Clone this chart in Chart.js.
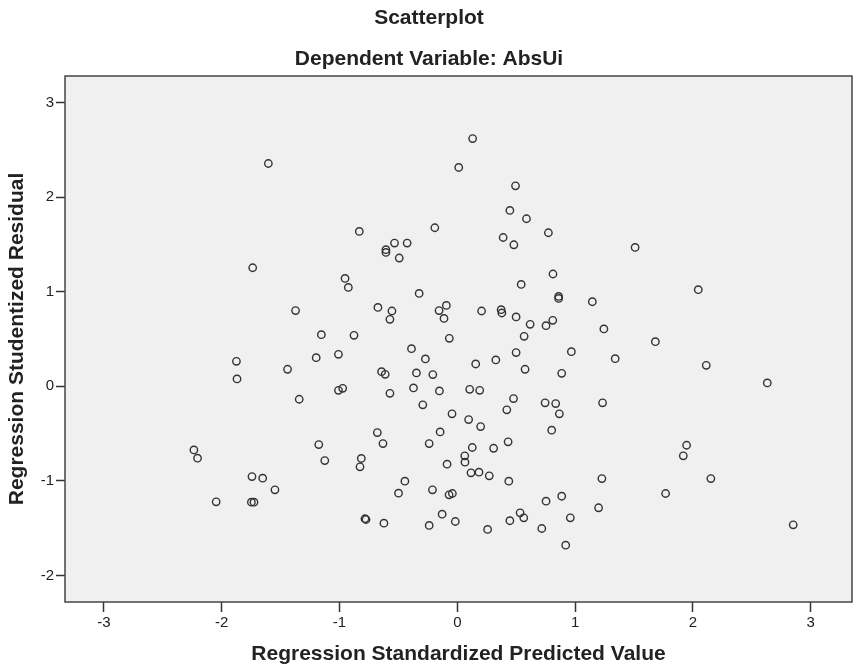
<html>
<head>
<meta charset="utf-8">
<style>
  html, body { margin: 0; padding: 0; background: #ffffff; }
  #wrap { width: 858px; height: 668px; }
</style>
</head>
<body>
<script src="https://cdn.jsdelivr.net/npm/chart.js@4.4.0/dist/chart.umd.min.js"></script>
<div id="wrap"><canvas id="scatter"></canvas></div>
<script>
  // chart text
  let chartTitle = "Scatterplot";
  let chartSubtitle = "Dependent Variable: AbsUi";
  let xAxisTitle = "Regression Standardized Predicted Value";
  let yAxisTitle = "Regression Studentized Residual";

  // tick labels
  let xTicks = [-3, -2, -1, 0, 1, 2, 3];
  let yTicks = [-2, -1, 0, 1, 2, 3];

  // standardized predicted values (x)
  let predicted = [
    -1.604, -1.737, -1.373, -1.154, 0.130, 0.012, 0.494, 0.446, 0.587, -0.832,
    -0.191, 0.773, 0.389, 0.480, -0.533, -0.426, -0.606, -0.606, -0.493, 0.812,
    -0.953, -0.925, 0.542, -0.324, 0.860, 0.860, 1.146, -0.674, -0.555, -0.572,
    -0.155, -0.093, -0.113, 0.206, 0.372, 0.378, 0.499, 0.618, 0.810, 0.753,
    0.567, -0.877, -0.068, 1.509, 2.045, 1.244, 1.681, -1.875, -1.870, -1.441,
    -1.198, -1.342, -1.176, -1.125, -2.236, -2.205, -1.743, -1.652, -1.548, -2.047,
    -1.748, -1.726, -1.009, -0.389, -0.271, -0.643, -0.612, -0.347, -0.208, 0.156,
    0.327, 0.499, 0.575, 0.968, 0.886, -1.009, -0.973, -0.572, -0.372, -0.152,
    0.105, 0.190, -0.293, -0.045, 0.096, 0.198, 0.477, 0.420, 0.745, 0.835,
    0.866, 0.801, -0.679, -0.631, -0.146, -0.239, 0.127, 0.308, 0.431, 0.063,
    0.065, -0.087, 0.116, 0.184, 0.271, 0.437, -0.815, -0.826, -0.445, -0.499,
    -0.211, -0.070, -0.042, 0.753, 0.886, 0.959, 0.533, 0.564, 0.446, 0.257,
    0.717, 0.920, -0.129, -0.017, -0.239, -0.784, -0.775, -0.623, 1.340, 2.113,
    2.631, 1.233, 1.946, 1.918, 1.227, 2.152, 1.768, 1.199, 2.851
  ];

  // studentized residuals (y), same order
  let residual = [
    2.355, 1.253, 0.800, 0.546, 2.619, 2.313, 2.119, 1.859, 1.771, 1.637,
    1.676, 1.623, 1.573, 1.496, 1.514, 1.514, 1.444, 1.415, 1.356, 1.187,
    1.140, 1.045, 1.077, 0.982, 0.950, 0.929, 0.894, 0.834, 0.796, 0.708,
    0.800, 0.855, 0.718, 0.796, 0.810, 0.775, 0.733, 0.655, 0.697, 0.641,
    0.528, 0.539, 0.507, 1.468, 1.021, 0.606, 0.472, 0.264, 0.078, 0.180,
    0.303, -0.137, -0.616, -0.785, -0.672, -0.760, -0.954, -0.971, -1.094, -1.221,
    -1.225, -1.225, 0.338, 0.398, 0.289, 0.155, 0.127, 0.141, 0.124, 0.236,
    0.279, 0.356, 0.180, 0.366, 0.137, -0.042, -0.021, -0.074, -0.017, -0.049,
    -0.032, -0.042, -0.196, -0.291, -0.352, -0.426, -0.130, -0.249, -0.175, -0.183,
    -0.291, -0.464, -0.489, -0.605, -0.482, -0.605, -0.647, -0.655, -0.587, -0.735,
    -0.802, -0.823, -0.915, -0.908, -0.946, -1.003, -0.763, -0.851, -1.003, -1.130,
    -1.094, -1.147, -1.133, -1.214, -1.162, -1.390, -1.337, -1.390, -1.421, -1.513,
    -1.503, -1.679, -1.352, -1.429, -1.471, -1.400, -1.408, -1.447, 0.292, 0.222,
    0.036, -0.175, -0.623, -0.735, -0.975, -0.975, -1.133, -1.284, -1.464
  ];

  let chartFont = "'Liberation Sans', Arial, sans-serif";
  let inkColor = "#222222";

  // plot frame + grey fill, titles on top
  const frameAndTitles = {
    id: "frameAndTitles",
    beforeDraw(chart) {
      const { ctx, chartArea: a } = chart;
      ctx.save();
      ctx.fillStyle = "#f0f0f0";
      ctx.fillRect(a.left, a.top, a.right - a.left, a.bottom - a.top);
      ctx.restore();
    },
    afterDraw(chart) {
      const { ctx, chartArea: a } = chart;
      ctx.save();
      ctx.strokeStyle = "#444444";
      ctx.lineWidth = 1.5;
      ctx.strokeRect(a.left, a.top, a.right - a.left, a.bottom - a.top);
      ctx.fillStyle = inkColor;
      ctx.textAlign = "center";
      ctx.textBaseline = "alphabetic";
      ctx.font = "bold 21px " + chartFont;
      ctx.fillText(chartTitle, 429, 24);
      ctx.fillText(chartSubtitle, 429, 65);
      ctx.restore();
    }
  };

  function integerTicks(list) {
    return function (scale) {
      scale.ticks = list.map(v => ({ value: v }));
    };
  }

  let ctx = document.getElementById("scatter").getContext("2d");
  let points = predicted.map((x, i) => ({ x: x, y: residual[i] }));

  new Chart(ctx, {
    type: "scatter",
    data: {
      datasets: [{
        data: points,
        pointStyle: "circle",
        pointRadius: 3.7,
        pointBorderWidth: 1.4,
        pointBorderColor: "#333333",
        pointBackgroundColor: "rgba(0,0,0,0)"
      }]
    },
    options: {
      responsive: true,
      maintainAspectRatio: false,
      animation: false,
      layout: { padding: { top: 76, right: 6, left: 0, bottom: 0 } },
      plugins: {
        legend: { display: false },
        tooltip: { enabled: false }
      },
      scales: {
        x: {
          type: "linear",
          min: -3.33,
          max: 3.35,
          afterBuildTicks: integerTicks(xTicks),
          afterFit(scale) { scale.height = 66; },
          grid: {
            drawOnChartArea: false,
            drawTicks: true,
            tickLength: 10,
            color: "#333333",
            tickWidth: 1.5
          },
          border: { display: false },
          ticks: {
            color: inkColor,
            padding: 2,
            font: { family: chartFont, size: 15 }
          },
          title: {
            display: true,
            text: xAxisTitle,
            color: inkColor,
            padding: { top: 4, bottom: 1 },
            font: { family: chartFont, size: 21, weight: "bold" }
          }
        },
        y: {
          type: "linear",
          min: -2.28,
          max: 3.28,
          afterBuildTicks: integerTicks(yTicks),
          afterFit(scale) { scale.width = 65; },
          grid: {
            drawOnChartArea: false,
            drawTicks: true,
            tickLength: 9,
            color: "#333333",
            tickWidth: 1.5
          },
          border: { display: false },
          ticks: {
            color: inkColor,
            padding: 2,
            font: { family: chartFont, size: 15 }
          },
          title: {
            display: true,
            text: yAxisTitle,
            color: inkColor,
            padding: { top: 5, bottom: 0 },
            font: { family: chartFont, size: 21, weight: "bold" }
          }
        }
      }
    },
    plugins: [frameAndTitles]
  });
</script>
</body>
</html>
